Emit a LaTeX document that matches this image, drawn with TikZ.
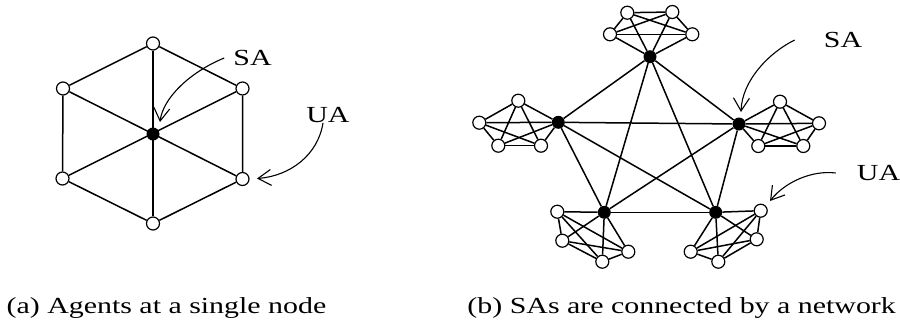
\documentclass[tikz,border=0pt]{standalone}
\usepackage{fontspec}
\setmainfont{Liberation Serif}[FakeStretch=1.3]
\usetikzlibrary{arrows.meta}

\begin{document}
\begin{tikzpicture}[x=1pt, y=-1pt,
  ua/.style={circle, draw, fill=white, line width=1.2pt, minimum size=13pt, inner sep=0pt},
  sa/.style={circle, fill=black, minimum size=13pt, inner sep=0pt},
  edge/.style={line width=1.5pt},
  pointer/.style={line width=1.1pt, -{Straight Barb[length=13pt, width=16pt]}},
  lbl/.style={inner sep=0pt, font=\fontsize{23}{27}\selectfont}]
  \useasboundingbox (0,0) rectangle (900,325);

  % (a) single node: hexagon of UAs round one SA
  \node[sa] (c) at (153,134) {};
  \node[ua] (ht)  at (153,43.5) {};
  \node[ua] (hul) at (63,88.5) {};
  \node[ua] (hur) at (242.5,88.5) {};
  \node[ua] (hll) at (62.5,178.5) {};
  \node[ua] (hlr) at (242.5,179) {};
  \node[ua] (hb)  at (153,223.5) {};
  \draw[edge] (ht) -- (hur) -- (hlr) -- (hb) -- (hll) -- (hul) -- (ht);
  \draw[edge] (ht) -- (hb);
  \draw[edge] (hul) -- (hlr);
  \draw[edge] (hur) -- (hll);

  % Labels with pointers
  \node[lbl] (saA) at (252.5,58) {SA};
  \node[lbl] (uaA) at (328,115) {UA};
  \coordinate (saAtip) at (160,122);
  \coordinate (uaAtip) at (257,178.5);
  \draw[pointer] ([xshift=-9pt]saA.west) .. controls (190,72) and (163,98) .. (saAtip);
  \draw[pointer] ([xshift=-5pt]uaA.south) .. controls (318,155) and (290,176) .. (uaAtip);

  % (b) SAs, each with its own cluster of UAs
  \node[sa] (t0) at (650,56.7) {};
  \node[sa] (l0) at (558.3,122.3) {};
  \node[sa] (r0) at (739,124) {};
  \node[sa] (a0) at (604.3,212.3) {};
  \node[sa] (b0) at (715.7,212.3) {};

  \node[ua] (t1) at (627.3,12.7) {};
  \node[ua] (t2) at (672.3,12) {};
  \node[ua] (t3) at (610,34.3) {};
  \node[ua] (t4) at (692.3,34.3) {};

  \node[ua] (l1) at (518.3,100.7) {};
  \node[ua] (l2) at (479.3,122.7) {};
  \node[ua] (l3) at (498.3,145.7) {};
  \node[ua] (l4) at (541,145.7) {};

  \node[ua] (r1) at (780,101.7) {};
  \node[ua] (r2) at (819,123.3) {};
  \node[ua] (r3) at (758.3,146) {};
  \node[ua] (r4) at (803.3,146) {};

  \node[ua] (a1) at (557.3,211.7) {};
  \node[ua] (a2) at (562.3,240.7) {};
  \node[ua] (a3) at (602.3,261.7) {};
  \node[ua] (a4) at (628.3,251.7) {};

  \node[ua] (b1) at (760.7,210.7) {};
  \node[ua] (b2) at (756.7,239.3) {};
  \node[ua] (b3) at (718.3,261.7) {};
  \node[ua] (b4) at (690.7,251.7) {};

  % every cluster is fully connected
  \foreach \c in {t,l,r,a,b}
    \foreach \i/\j in {0/1,0/2,0/3,0/4,1/2,1/3,1/4,2/3,2/4,3/4}
      \draw[edge] (\c\i) -- (\c\j);

  % network between the SAs
  \foreach \i/\j in {t0/l0,t0/r0,t0/a0,t0/b0,l0/r0,l0/a0,l0/b0,r0/a0,r0/b0,a0/b0}
    \draw[edge] (\i) -- (\j);

  \node[lbl] (saB) at (843,40) {SA};
  \node[lbl] (uaB) at (878.5,173) {UA};
  \coordinate (saBtip) at (741,112);
  \coordinate (uaBtip) at (770,201);
  \draw[pointer] ([xshift=-29pt]saB.west) .. controls (770,52) and (742,80) .. (saBtip);
  \draw[pointer] ([xshift=-21pt]uaB.west) .. controls (812,170) and (785,182) .. (uaBtip);

  % Captions
  \node[lbl, anchor=base] (capA) at (166.5,313.3) {(a) Agents at a single node};
  \node[lbl, anchor=base] (capB) at (681.7,313.3) {(b) SAs are connected by a network};
\end{tikzpicture}
\end{document}
